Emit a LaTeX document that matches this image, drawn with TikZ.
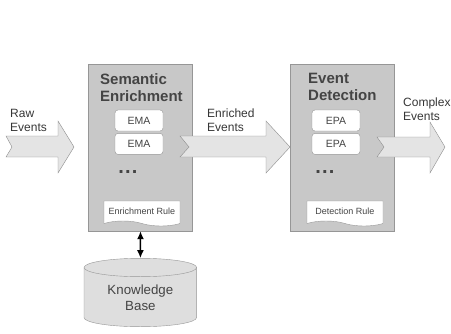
\documentclass[tikz,border=0pt]{standalone}
\usepackage{fontspec}
\setmainfont{Liberation Sans}
\usepackage{tikz}
\usetikzlibrary{shapes.symbols,arrows.meta,positioning}
\definecolor{stagegray}{RGB}{200,200,200}
\definecolor{linegray}{RGB}{150,150,150}
\definecolor{flowgray}{RGB}{228,228,228}
\definecolor{flowline}{RGB}{140,140,140}
\definecolor{kbgray}{RGB}{222,222,222}
\definecolor{textgray}{RGB}{68,68,68}

\begin{document}
\begin{tikzpicture}[x=1pt,y=-1pt]
  \tikzstyle{stage}=[rectangle,draw=linegray,fill=stagegray,minimum width=104pt,minimum height=167pt,inner sep=0pt]
  \tikzstyle{title}=[anchor=north west,inner sep=0pt,align=left,text=textgray,font=\fontsize{15}{17}\selectfont\bfseries]
  \tikzstyle{agent}=[rectangle,draw=linegray,fill=white,rounded corners=3pt,minimum width=48pt,minimum height=21pt,inner sep=0pt,text=textgray,font=\fontsize{10.5}{12}\selectfont]
  \tikzstyle{rule}=[tape,tape bend top=none,tape bend bottom=out and in,tape bend height=5pt,draw=linegray,fill=white,minimum width=76pt,minimum height=25pt,inner sep=0pt,text=textgray,font=\fontsize{9}{10}\selectfont]
  \tikzstyle{flow}=[draw=flowline,fill=flowgray,line join=miter]
  \tikzstyle{lbl}=[anchor=north west,inner sep=0pt,align=left,text=textgray!80!black,font=\fontsize{12}{14}\selectfont]
  \tikzstyle{more}=[inner sep=0pt,text=textgray,font=\fontsize{20}{20}\selectfont\bfseries]
  \useasboundingbox (0,0) rectangle (451,333);

  % raw events in
  \draw[flow] (6,136) -- (58,136) -- (58,121) -- (74,147) -- (58,173) -- (58,157) -- (6,157) -- (12,147) -- cycle;
  \node[lbl] (rawlbl) at (10,109) {Raw\\Events};

  % semantic enrichment stage
  \node[stage] (enrich) at (140.5,147.5) {};
  \node[title] (enrichttl) at (100,73) {Semantic\\Enrichment};
  \node[agent] (ema1) at (139,120.5) {EMA};
  \node[agent,below=2pt of ema1] (ema2) {EMA};
  \node[more] (emadots) at (128,171.7) {.\hspace{1.2pt}.\hspace{1.2pt}.};
  \node[rule] (enrichrule) at (142,211) {Enrichment Rule};

  % enriched events
  \draw[flow] (180,136) -- (266,136) -- (266,121) -- (290,147) -- (266,173) -- (266,157) -- (180,157) -- (189,147) -- cycle;
  \node[lbl] (enrlbl) at (207,109) {Enriched\\Events};

  % event detection stage
  \node[stage] (detect) at (342,147.5) {};
  \node[title] (detectttl) at (308,73) {Event\\Detection};
  \node[agent] (epa1) at (336,120.5) {EPA};
  \node[agent,below=2pt of epa1] (epa2) {EPA};
  \node[more] (epadots) at (325,171.7) {.\hspace{1.2pt}.\hspace{1.2pt}.};
  \node[rule] (detectrule) at (345,211) {Detection Rule};

  % complex events out
  \draw[flow] (377,137) -- (430,137) -- (430,122) -- (445,147) -- (430,173) -- (430,157) -- (377,157) -- (384,147) -- cycle;
  \node[lbl] (cpxlbl) at (403,98) {Complex\\Events};

  % knowledge base
  \draw[draw=linegray,fill=kbgray] (84,267.5) -- (84,317.5)
    arc[start angle=180,end angle=0,x radius=56.3,y radius=9.2] -- (196.7,267.5)
    arc[start angle=0,end angle=-180,x radius=56.3,y radius=9.2] -- cycle;
  \draw[draw=linegray] (84,267.5) arc[start angle=180,end angle=0,x radius=56.3,y radius=9.2];
  \node[minimum width=112.7pt,minimum height=79.4pt,inner sep=0pt,align=center,text=textgray,font=\fontsize{13.3}{16}\selectfont] (kb) at (140.4,298) {Knowledge\\Base};

  \draw[{Latex[length=8pt,width=7pt]}-{Latex[length=8pt,width=7pt]},line width=1.5pt] (enrich.south) -- (kb.north);
\end{tikzpicture}
\end{document}
